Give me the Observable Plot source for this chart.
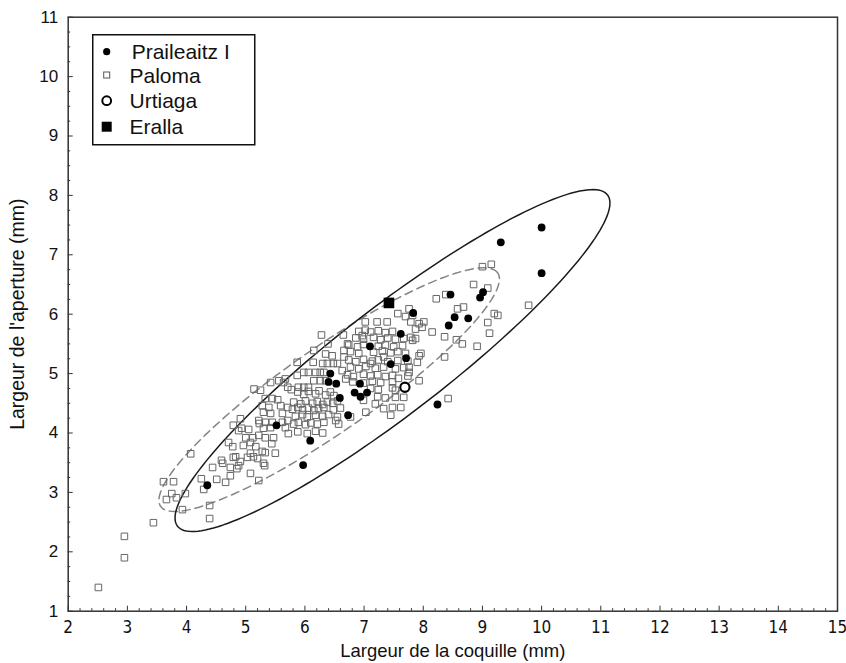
<!DOCTYPE html>
<html><head><meta charset="utf-8">
<script src="https://cdn.jsdelivr.net/npm/d3@7"></script>
<script src="https://cdn.jsdelivr.net/npm/@observablehq/plot@0.6"></script>
<style>
body{margin:0;background:#fff;}
#wrap{position:relative;width:846px;height:663px;}
#legend{position:absolute;left:92px;top:34px;}
</style></head><body><div id="wrap"></div>
<script>
// Praileaitz I (filled circles)
const praileaitz = [
 [10.00,7.46],[9.31,7.21],[10.00,6.69],[8.46,6.33],[9.01,6.37],[8.96,6.28],[8.53,5.95],[8.76,5.93],
 [8.43,5.81],[8.24,4.48],[7.83,6.02],[7.62,5.67],[7.10,5.46],[7.71,5.26],[7.45,5.16],[6.43,5.00],
 [6.40,4.86],[6.53,4.83],[6.93,4.83],[6.59,4.59],[6.84,4.68],[6.94,4.61],[7.05,4.68],[6.73,4.30],
 [5.52,4.13],[6.09,3.87],[5.97,3.46],[4.35,3.12]
];
// Paloma (open squares)
const paloma = [
 [2.51,1.40],[2.95,2.26],[2.95,1.90],[3.44,2.49],[3.61,3.18],[3.78,3.18],[3.75,2.98],[3.66,2.88],
 [3.83,2.91],[3.93,2.71],[3.98,2.98],[4.07,3.65],[4.25,3.23],[4.29,3.05],[4.39,2.78],[4.39,2.56],
 [4.44,3.42],[4.51,3.22],[4.59,3.54],[4.61,3.49],[4.66,3.17],[4.71,3.84],[4.78,3.77],[4.74,3.28],
 [4.79,4.13],[4.83,3.60],[4.85,3.40],[4.91,3.52],[4.91,4.24],[4.88,4.04],[4.96,3.79],[5.03,3.59],
 [5.13,3.60],[5.08,3.32],[5.22,3.20],[4.74,3.42],[4.79,3.59],[4.88,3.45],[5.28,3.69],[5.50,3.66],
 [5.32,3.45],[5.23,4.16],[4.93,4.08],[5.05,4.06],[5.08,3.84],[5.17,3.77],[5.33,3.67],[5.08,3.66],
 [5.20,3.57],[5.30,3.49],
 [5.64,4.85],[5.71,4.77],[5.25,4.72],[5.77,4.73],[5.33,4.58],[5.45,4.58],[5.54,4.56],[5.28,4.46],
 [5.39,4.43],[5.59,4.46],[5.71,4.43],[5.30,4.35],[5.42,4.33],[5.62,4.33],[5.22,4.21],[5.33,4.18],
 [5.45,4.18],[5.62,4.18],[5.71,4.21],[5.30,4.08],[5.42,4.09],[5.67,4.09],[5.00,3.92],[5.12,3.92],
 [5.22,3.96],[5.33,3.92],[5.47,3.92],[5.72,3.99],[5.44,3.82],
 [5.42,4.85],[5.56,4.88],[5.67,4.91],[5.14,4.74],[5.87,5.19],
 [6.28,5.65],[6.65,5.65],[6.39,5.50],[6.15,5.39],[6.35,5.33],[6.46,5.30],[6.66,5.39],[6.66,5.28],
 [6.14,5.19],[6.30,5.17],[6.38,5.17],[6.48,5.17],[6.55,5.17],[5.87,4.97],
 [5.98,5.02],[6.06,5.02],[6.18,5.02],[6.26,5.02],[6.32,5.02],[6.15,4.88],[6.26,4.88],[6.35,4.88],
 [6.63,5.05],[6.69,4.91],[5.89,4.77],[5.98,4.77],[6.06,4.77],
 [5.88,4.69],[5.98,4.65],[6.06,4.70],[6.18,4.66],[6.24,4.71],[6.35,4.64],[6.43,4.69],[6.49,4.63],
 [5.81,4.52],[5.93,4.49],[6.01,4.54],[6.13,4.50],[6.21,4.53],[6.30,4.48],[6.38,4.52],[6.47,4.50],[6.55,4.54],
 [5.79,4.40],[5.88,4.43],[5.96,4.39],[6.06,4.42],[6.15,4.38],[6.23,4.41],[6.32,4.43],[6.48,4.39],[6.60,4.42],
 [5.84,4.28],[5.96,4.31],[6.04,4.27],[6.18,4.30],[6.30,4.28],[6.40,4.31],[6.55,4.27],
 [5.81,4.15],[5.89,4.18],[6.01,4.14],[6.10,4.17],[6.21,4.15],[6.32,4.18],[6.57,4.15],
 [5.88,4.02],[6.04,3.99],[6.18,4.03],[6.30,4.00],
 [6.91,5.71],[7.02,5.73],[7.11,5.70],[7.24,5.72],[7.36,5.69],[7.48,5.71],
 [6.86,5.60],[6.99,5.58],[7.16,5.61],[7.28,5.57],[7.40,5.60],[7.53,5.58],[7.67,5.59],
 [6.74,5.48],[6.89,5.45],[6.99,5.49],[7.24,5.46],[7.36,5.48],[7.50,5.45],[7.65,5.47],
 [6.77,5.37],[6.91,5.34],[7.16,5.36],[7.31,5.38],[7.45,5.35],[7.57,5.37],[7.70,5.34],
 [6.74,5.23],[6.86,5.20],[6.99,5.24],[7.14,5.21],[7.24,5.23],[7.40,5.20],[7.57,5.22],[7.74,5.21],
 [6.77,5.11],[6.91,5.08],[7.03,5.12],[7.19,5.09],[7.33,5.11],[7.53,5.08],[7.67,5.10],
 [6.72,4.98],[6.82,4.95],[6.99,4.99],[7.11,4.96],[7.23,4.98],[7.36,4.95],[7.48,4.97],[7.74,4.96],
 [6.81,4.86],[6.99,4.84],[7.14,4.87],[7.28,4.85],[7.48,4.86],
 [7.11,4.75],[7.24,4.73],[7.48,4.76],[7.53,4.72],[7.23,4.61],[7.36,4.59],[7.53,4.60],
 [7.57,6.01],[7.70,5.96],[7.22,5.87],[7.39,5.87],[7.02,5.87],
 [7.19,4.49],[7.33,4.41],[7.48,4.43],[6.99,4.55],[7.03,4.35],[7.45,4.30],[6.77,4.27],[6.52,4.21],
 [7.62,4.43],[7.58,4.92],[7.67,4.60],
 [6.72,5.50],[6.97,5.64],[7.79,5.87],[8.01,5.87],[8.15,5.70],[7.82,5.56],
 [7.76,6.09],[7.82,5.98],[7.79,5.61],[7.87,5.59],[7.93,5.30],[7.76,5.02],[7.11,5.17],[7.33,5.28],
 [7.93,4.88],[7.96,5.34],[7.76,5.11],[7.90,5.19],[7.93,5.84],[7.87,5.75],
 [9.00,6.80],[9.15,6.84],[8.85,6.50],[9.09,6.44],[8.38,6.33],[8.22,6.26],[8.58,6.09],[8.68,6.12],
 [7.98,5.78],[9.20,6.01],[9.26,5.98],[9.09,5.86],[8.36,5.62],[8.56,5.57],[8.66,5.50],[9.12,5.68],
 [8.91,5.46],[8.36,5.28],[9.78,6.15],[8.42,4.58]
];
const urtiaga = [[7.69,4.77]];
const eralla = [[7.42,6.19]];
const seriesNames = ["Praileaitz I","Paloma","Urtiaga","Eralla"];
const xTicks = [2,3,4,5,6,7,8,9,10,11,12,13,14,15];
const yTicks = [1,2,3,4,5,6,7,8,9,10,11];
const xTitle = "Largeur de la coquille (mm)";
const yTitle = "Largeur de l'aperture (mm)";
// confidence ellipses: centre, semi-axes, orientation (degrees)
const ellipseSolid = {cx:7.48, cy:5.22, a:4.58, b:0.90, angle:37.5};
const ellipseDashed = {cx:6.41, cy:4.73, a:3.46, b:0.716, angle:34.6};

function ellipsePts(e){
  const t = e.angle*Math.PI/180;
  return d3.range(0, 361, 2).map(deg => {
    const u = deg*Math.PI/180, ex = e.a*Math.cos(u), ey = e.b*Math.sin(u);
    return {x: e.cx + ex*Math.cos(t) - ey*Math.sin(t), y: e.cy + ex*Math.sin(t) + ey*Math.cos(t)};
  });
}
const xMinor = d3.range(2, 15.001, 0.2).filter(v => Math.abs(v - Math.round(v)) > 1e-6);
const yMinor = d3.range(1, 11.001, 0.25).filter(v => Math.abs(v - Math.round(v)) > 1e-6);

const W=846, H=663, mL=67.7, mR=9, mT=16.7, mB=52.3;
const fh = H-mT-mB, fw = W-mL-mR;
const narrow = "'Liberation Sans Narrow','DejaVu Sans Condensed','Liberation Sans',Arial,sans-serif";
const regular = "'Liberation Sans',Arial,Helvetica,sans-serif";

const chart = Plot.plot({
  width: W, height: H, marginLeft: mL, marginRight: mR, marginTop: mT, marginBottom: mB,
  x: {domain: [2, 15]},
  y: {domain: [1, 11]},
  style: {background: "#fff", fontFamily: regular, color: "#111"},
  marks: [
    Plot.line(ellipsePts(ellipseDashed), {x: "x", y: "y", stroke: "#858585", strokeWidth: 1.5, strokeDasharray: "8,5"}),
    Plot.line(ellipsePts(ellipseSolid), {x: "x", y: "y", stroke: "#1a1a1a", strokeWidth: 1.5}),
    Plot.dot(paloma, {x: d => d[0], y: d => d[1], symbol: "square", r: 3.7, stroke: "#666", strokeWidth: 1, fill: "none"}),
    Plot.dot(praileaitz, {x: d => d[0], y: d => d[1], r: 3.9, fill: "#000", stroke: null}),
    Plot.dot(urtiaga, {x: d => d[0], y: d => d[1], r: 4.6, fill: "#fff", stroke: "#000", strokeWidth: 2.1}),
    Plot.dot(eralla, {x: d => d[0], y: d => d[1], symbol: "square", r: 6, fill: "#000", stroke: null}),
    Plot.tickX(xMinor, {x: d => d, insetTop: fh - 2.5, stroke: "#333"}),
    Plot.tickX(xTicks, {x: d => d, insetTop: fh - 5, stroke: "#333"}),
    Plot.tickY(yMinor, {y: d => d, insetRight: fw - 2.5, stroke: "#333"}),
    Plot.tickY(yTicks, {y: d => d, insetRight: fw - 5, stroke: "#333"}),
    Plot.frame({stroke: "#333", strokeWidth: 1.5}),
    Plot.axisX({ticks: xTicks, tickSize: 0, tickPadding: 10, fontSize: 17, fontFamily: narrow, label: null, fill: "#111"}),
    Plot.axisY({ticks: yTicks, tickSize: 0, tickPadding: 10, fontSize: 17, fontFamily: regular, label: null, fill: "#111"}),
    Plot.text([xTitle], {text: d => d, frameAnchor: "bottom", lineAnchor: "middle", textAnchor: "middle", dy: 40, fontSize: 18.5, fontFamily: regular, fill: "#111"}),
    Plot.text([yTitle], {text: d => d, frameAnchor: "left", lineAnchor: "middle", textAnchor: "middle", rotate: -90, dx: -50, fontSize: 19.5, fontFamily: regular, fill: "#111"})
  ]
});
const wrap = document.getElementById("wrap");
wrap.appendChild(chart);

// legend (inside plot area, top-left)
const ns = "http://www.w3.org/2000/svg";
const lg = document.createElementNS(ns, "svg");
lg.setAttribute("id", "legend");
lg.setAttribute("width", 165); lg.setAttribute("height", 113);
const rows = [17.7, 41, 66.7, 92.7];
let html = `<rect x="0.75" y="0.75" width="162" height="110" fill="#fff" stroke="#111" stroke-width="1.5"/>`;
html += `<circle cx="14.7" cy="${rows[0]}" r="3.6" fill="#000"/>`;
html += `<rect x="11.7" y="${rows[1]-3}" width="6" height="6" fill="none" stroke="#555" stroke-width="1"/>`;
html += `<circle cx="14.7" cy="${rows[2]}" r="4.4" fill="#fff" stroke="#000" stroke-width="2"/>`;
html += `<rect x="9.7" y="${rows[3]-5}" width="10" height="10" fill="#000"/>`;
seriesNames.forEach((s, i) => {
  html += `<text x="${i===0?39.7:37.5}" y="${rows[i]+7.5}" font-family="Liberation Sans, Arial, sans-serif" font-size="21" fill="#111">${s}</text>`;
});
lg.innerHTML = html;
wrap.appendChild(lg);
</script>
</body></html>
